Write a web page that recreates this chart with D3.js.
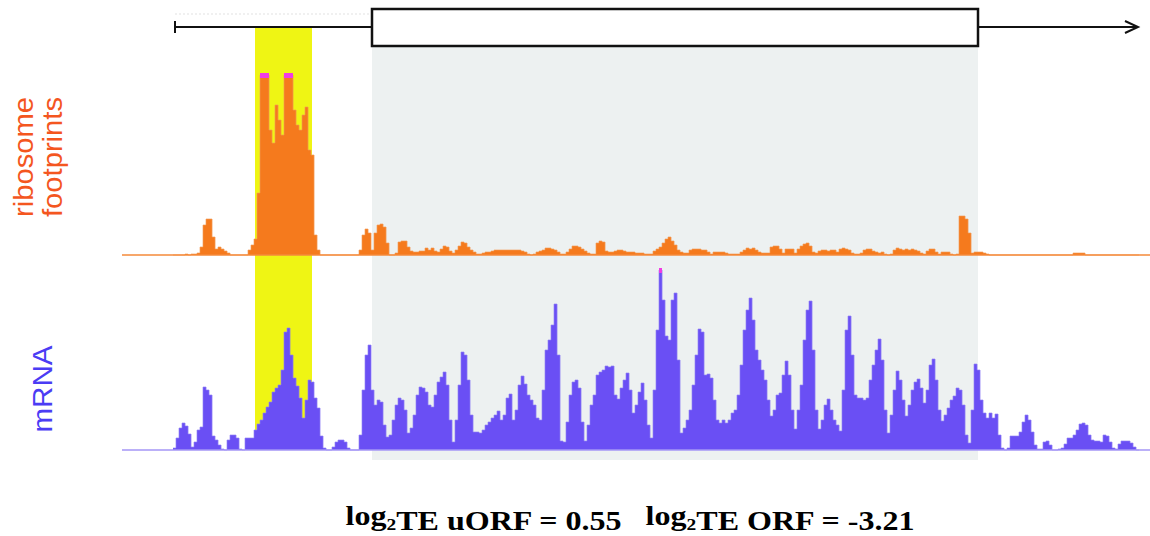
<!DOCTYPE html>
<html>
<head>
<meta charset="utf-8">
<script src="https://cdn.jsdelivr.net/npm/d3@7"></script>
<style>
  body { margin: 0; background: #fff; }
  svg { display: block; }
</style>
</head>
<body>
<script>
// Coverage is binned: each value covers binSize nt, first bin starts at covStart.
const binSize = 3;
const covStart = 51;

// Ribosome footprint coverage (reads per bin)
const riboCoverage = [
  0,0,0,0,1,0,1,1,2,
  8,30,36,36,18,6,8,6,4,2,0,
  0,0,0,0,0,5,10,16,
  62,200,200,200,
  125,112,150,135,120,
  200,200,200,
  145,130,125,140,148,105,100,20,5,0,
  0,0,0,0,0,0,0,0,0,0,0,0,
  5,20,26,22,5,22,30,31,28,12,0,0,
  2,13,14,14,8,4,3,3,4,4,7,5,7,4,3,
  6,9,8,4,2,5,9,13,12,8,5,3,1,1,2,
  3,3,4,5,5,5,5,5,5,5,5,5,4,3,1,
  0,1,3,4,5,7,7,6,5,3,1,1,3,6,9,
  9,8,6,4,2,1,1,12,14,13,4,3,3,4,5,
  5,4,3,3,3,2,2,2,1,1,1,4,6,8,12,
  16,18,14,10,5,3,2,2,5,6,6,6,5,5,3,
  1,3,3,3,3,2,1,1,1,1,3,5,7,6,7,
  5,3,2,2,2,8,9,9,6,2,6,6,6,2,6,
  9,11,12,9,3,2,4,5,5,4,5,5,3,6,7,
  6,5,2,1,1,2,5,6,6,4,3,2,3,1,0,
  1,5,7,6,5,6,5,6,5,4,2,1,4,6,6,
  3,1,3,3,3,1,0,1,39,39,36,22,2,3,3,
  3,2,1,0,0,0,0,0,0,0,0,0,0,0,0,
  0,0,0,0,0,0,0,0,0,0,0,0,0,0,0,
  0,2,2,2,2,0,0,0,0,0,0,0,0,0,0,
  0,0,0,0,0,0,0,0
];

// mRNA-seq coverage (reads per bin)
const mrnaCoverage = [
  2,12,22,27,24,16,3,8,20,23,
  63,60,55,14,10,5,1,0,10,15,
  15,12,1,0,12,12,12,20,26,30,
  37,43,48,58,62,65,80,118,122,95,
  72,64,52,32,50,70,68,52,42,14,
  2,0,0,3,8,10,10,8,2,0,
  0,0,15,60,95,105,60,45,50,48,
  25,13,15,30,45,52,50,40,17,22,
  35,55,63,62,58,45,43,55,68,73,
  78,65,30,8,30,65,98,95,70,35,
  18,18,17,20,25,28,32,35,39,30,
  35,52,56,30,40,65,74,66,55,50,
  45,32,30,60,100,110,125,146,95,9,
  8,28,55,68,70,62,28,9,25,45,
  55,75,78,80,84,83,84,55,51,62,
  70,77,60,37,45,58,67,50,25,12,
  60,120,200,150,114,110,150,157,90,17,
  22,30,40,65,95,121,118,75,76,72,
  50,30,27,30,27,30,37,40,55,85,
  120,140,152,130,100,90,80,70,50,34,
  40,55,57,75,89,75,40,21,40,65,
  110,140,149,100,40,21,30,45,51,40,
  30,25,19,60,120,134,95,55,52,52,
  50,52,70,85,100,111,90,40,17,35,
  60,79,70,50,34,45,60,68,71,62,
  47,60,85,91,70,40,29,35,42,50,
  54,62,60,45,15,7,40,86,80,50,
  37,32,37,32,36,15,2,0,2,14,
  14,14,18,28,35,30,18,5,1,1,
  8,9,5,0,0,1,2,6,12,12,
  15,20,26,27,25,15,10,9,9,8,
  15,14,8,2,1,6,9,9,9,7,
  3,0
];

// Transcript model (nt)
const txRange = [53, 1016];
const cdsRange = [250, 856];
const uorfRange = [133, 190];
const viewRange = [0, 1029];
const dataRange = [0, 180];

// Track labels
const riboLabel = ["ribosome", "footprints"];
const mrnaLabel = ["mRNA"];

// Translational efficiency (log2) per reading frame
const teFrames = ["uORF", "ORF"];
const teValues = ["0.55", "-3.21"];

const W = 1150, H = 536;
const svg = d3.select("body").append("svg")
  .attr("width", W).attr("height", H)
  .attr("viewBox", `0 0 ${W} ${H}`);

const x = d3.scaleLinear().domain(viewRange).range([122, 1151]);

const tracks = [
  { values: riboCoverage, base: 255, fill: "#f57a1d", edge: "#f39a55", line: "#f58a3a" },
  { values: mrnaCoverage, base: 450, fill: "#6a4ff4", edge: "#8f7ef5", line: "#a596f6" }
];
tracks.forEach(t => {
  t.y = d3.scaleLinear().domain(dataRange).range([t.base, t.base - 180]).clamp(true);
});

// CDS shading and uORF highlight
svg.append("rect")
  .attr("x", x(cdsRange[0])).attr("y", 46)
  .attr("width", x(cdsRange[1]) - x(cdsRange[0])).attr("height", 414)
  .attr("fill", "#edf1f1");

svg.append("rect")
  .attr("x", x(uorfRange[0])).attr("y", 28)
  .attr("width", x(uorfRange[1]) - x(uorfRange[0])).attr("height", 422)
  .attr("fill", "#eff514");

// Transcript model
const gm = svg.append("g");
const txL = x(txRange[0]), txR = x(txRange[1]);
gm.append("line")
  .attr("x1", txL).attr("x2", x(cdsRange[0]))
  .attr("y1", 14).attr("y2", 14)
  .attr("stroke", "#e2e2e2").attr("stroke-width", 1.2)
  .attr("stroke-dasharray", "2,2");
gm.append("line")
  .attr("x1", txL).attr("x2", txR)
  .attr("y1", 27).attr("y2", 27)
  .attr("stroke", "#111").attr("stroke-width", 2);
gm.append("line")
  .attr("x1", txL).attr("x2", txL)
  .attr("y1", 21).attr("y2", 33)
  .attr("stroke", "#111").attr("stroke-width", 2);
gm.append("path")
  .attr("d", d3.line()([[txR - 13, 21], [txR, 27], [txR - 13, 33]]))
  .attr("fill", "none").attr("stroke", "#111").attr("stroke-width", 2);
gm.append("rect")
  .attr("x", x(cdsRange[0])).attr("y", 9)
  .attr("width", x(cdsRange[1]) - x(cdsRange[0])).attr("height", 37)
  .attr("fill", "#fff").attr("stroke", "#111").attr("stroke-width", 2.5);

// Coverage tracks
tracks.forEach(t => {
  const g = svg.append("g");
  const bins = t.values.map((v, j) => ({ start: covStart + j * binSize, v }));
  g.selectAll("rect.bar").data(bins).join("rect")
    .attr("class", "bar")
    .attr("x", d => x(d.start))
    .attr("width", d => x(d.start + binSize) - x(d.start) + 0.1)
    .attr("y", d => t.y(d.v))
    .attr("height", d => t.base - t.y(d.v))
    .attr("fill", t.fill);
  // outline
  const outline = d3.line()
    .x(d => x(d.start)).y(d => t.y(d.v)).curve(d3.curveStepAfter);
  g.append("path")
    .attr("d", outline(bins.concat([{ start: covStart + bins.length * binSize, v: 0 }])))
    .attr("fill", "none").attr("stroke", t.edge).attr("stroke-opacity", 0.8)
    .attr("stroke-width", 0.8);
  // baseline
  g.append("line")
    .attr("x1", x(viewRange[0])).attr("x2", x(viewRange[1]))
    .attr("y1", t.base).attr("y2", t.base)
    .attr("stroke", t.line).attr("stroke-width", 1.6);
  // clipped values marked at the top of the range
  g.selectAll("rect.clip").data(bins.filter(d => d.v > dataRange[1])).join("rect")
    .attr("class", "clip")
    .attr("x", d => x(d.start))
    .attr("width", d => x(d.start + binSize) - x(d.start))
    .attr("y", t.base - 182).attr("height", 5)
    .attr("fill", "#f03ce4");
});

// Track labels
const lab = svg.append("g").attr("font-family", "'Liberation Sans', Arial, sans-serif");
riboLabel.forEach((s, i) => {
  lab.append("text")
    .attr("transform", `translate(${33 + i * 29},157) rotate(-90)`)
    .attr("text-anchor", "middle")
    .attr("font-size", 28)
    .attr("textLength", 120).attr("lengthAdjust", "spacingAndGlyphs")
    .attr("fill", "#f4561f").text(s);
});
mrnaLabel.forEach(s => {
  lab.append("text")
    .attr("transform", `translate(52,389) rotate(-90)`)
    .attr("text-anchor", "middle")
    .attr("font-size", 28)
    .attr("textLength", 87).attr("lengthAdjust", "spacingAndGlyphs")
    .attr("fill", "#4b3cf4").text(s);
});

// Translational efficiency summary
const teG = svg.append("g").attr("transform", "translate(630,525) scale(1.145,1)");
const t = teG.append("text")
  .attr("x", 0).attr("y", 0)
  .attr("text-anchor", "middle")
  .attr("font-family", "'Liberation Serif', 'Times New Roman', serif")
  .attr("font-weight", "bold").attr("font-size", 28).attr("fill", "#000");
teFrames.forEach((f, i) => {
  t.append("tspan").attr("dy", i === 0 ? 0 : -5).text((i === 0 ? "" : "\u00a0\u00a0\u00a0") + "log");
  t.append("tspan").attr("font-size", 17).attr("dy", 5).text("2");
  t.append("tspan").attr("dy", 0).text(`TE ${f} = ${teValues[i]}`);
});
</script>
</body>
</html>
